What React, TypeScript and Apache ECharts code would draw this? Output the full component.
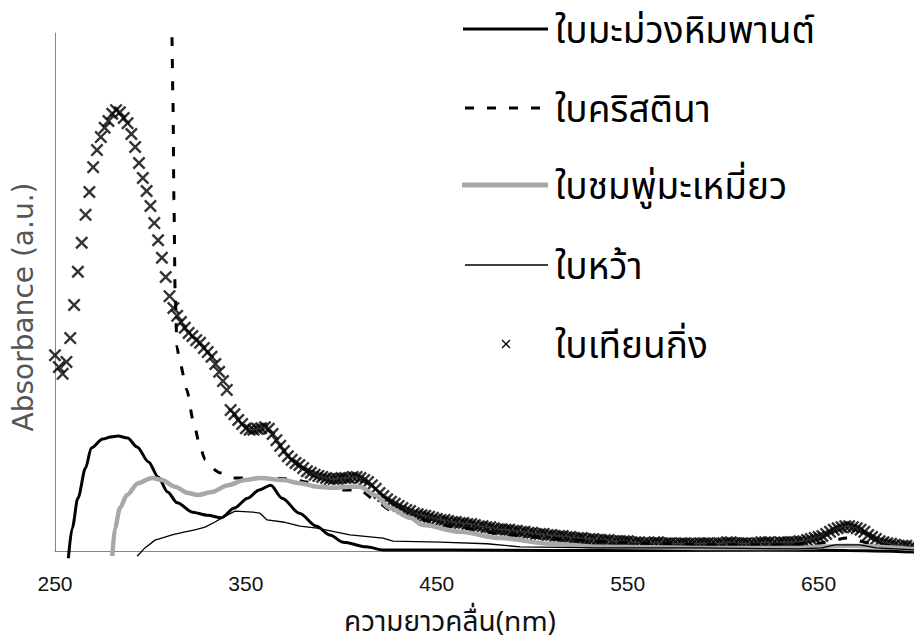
import React, { useEffect, useRef } from "react";
import * as echarts from "echarts";

// Series names (legend order)
const seriesNames = ["ใบมะม่วงหิมพานต์", "ใบคริสตินา", "ใบชมพู่มะเหมี่ยว", "ใบหว้า", "ใบเทียนกิ่ง"];

const xTitle = "ความยาวคลื่น(nm)";
const yTitle = "Absorbance (a.u.)";

// x-axis range and tick spacing (nm)
const xMin = 250;
const xMax = 700;
const xStep = 100;

// [wavelength nm, absorbance a.u.]
const mangoAbs: [number, number][] = [
  [257, -0.014], [259, 0.044], [262, 0.102], [266, 0.160], [269, 0.199], [275, 0.216],
  [279, 0.220], [283, 0.222], [288, 0.218], [293, 0.201], [299, 0.172], [304, 0.143],
  [309, 0.114], [314, 0.093], [322, 0.075], [330, 0.069], [337, 0.064], [344, 0.083],
  [351, 0.102], [357, 0.118], [363, 0.127], [369, 0.102], [378, 0.073], [387, 0.048],
  [394, 0.031], [401, 0.017], [413, 0.008], [422, 0.002], [457, 0.002], [509, 0.001],
  [562, 0.001], [620, 0.002], [665, 0.001], [700, -0.002],
];

const christinaAbs: [number, number][] = [
  [311.3, 0.992], [311.8, 0.871], [312.3, 0.678], [312.9, 0.504], [313.9, 0.394],
  [315.5, 0.363], [319.1, 0.311], [322.3, 0.253], [326.0, 0.201], [328.6, 0.176],
  [331.2, 0.162], [336.4, 0.151], [343.2, 0.141], [352.1, 0.141], [362.6, 0.141],
  [373.1, 0.139], [382.0, 0.133], [390, 0.125], [399.3, 0.118], [409.8, 0.118],
  [418.7, 0.095], [425.5, 0.079], [441.2, 0.060], [462.2, 0.044], [488.3, 0.031],
  [522.4, 0.021], [558.0, 0.015], [593.1, 0.012], [629.8, 0.012], [650.7, 0.015],
  [664.9, 0.025], [676.9, 0.015], [692.6, 0.008], [700, 0.006],
];

const roseAppleAbs: [number, number][] = [
  [280, -0.010], [281.4, 0.044], [284.0, 0.083], [287.7, 0.108], [293.5, 0.131],
  [300.8, 0.141], [306.1, 0.137], [312.9, 0.124], [319.7, 0.112], [324.9, 0.108],
  [332.2, 0.114], [340.6, 0.127], [349.5, 0.137], [357.4, 0.141], [369.4, 0.137],
  [378.3, 0.131], [387.2, 0.124], [395.6, 0.122], [404.5, 0.124], [409.8, 0.124],
  [417.6, 0.108], [425.5, 0.083], [436.0, 0.064], [442.8, 0.050], [462.2, 0.037],
  [483.1, 0.025], [509.3, 0.014], [535.5, 0.008], [587.9, 0.006], [640.3, 0.006],
  [664.9, 0.010], [700, 0.004],
];

const javaPlumAbs: [number, number][] = [
  [293.0, -0.010], [297.1, 0.006], [302.4, 0.021], [307.6, 0.027], [311.3, 0.031],
  [318.1, 0.037], [323.3, 0.041], [328.6, 0.046], [333.8, 0.056], [337.5, 0.064],
  [344.3, 0.077], [353.7, 0.075], [357.4, 0.073], [361.1, 0.060], [369.4, 0.056],
  [378.3, 0.048], [387.2, 0.044], [404.5, 0.031], [421.8, 0.025], [427.1, 0.019],
  [451.7, 0.017], [476.3, 0.014], [493.6, 0.008], [535.5, 0.006], [587.9, 0.006],
  [640.3, 0.004], [651.8, 0.006], [658.6, 0.012], [671.7, 0.012], [680.1, 0.006],
  [700, 0.002],
];

// Henna leaf spectrum, sampled every 2 nm from 250 nm
const hennaStart = 250;
const hennaStep = 2;
const hennaAbs = [
  0.378, 0.355, 0.342, 0.365, 0.411, 0.475, 0.539, 0.595, 0.649, 0.693, // 250-268
  0.741, 0.774, 0.799, 0.817, 0.830, 0.844, 0.851, 0.847, 0.836, 0.826, // 270-288
  0.805, 0.780, 0.749, 0.720, 0.695, 0.666, 0.633, 0.600, 0.566, 0.529, // 290-308
  0.492, 0.469, 0.454, 0.442, 0.431, 0.421, 0.415, 0.407, 0.402, 0.392, // 310-328
  0.384, 0.375, 0.361, 0.346, 0.328, 0.311, 0.272, 0.264, 0.253, 0.245, // 330-348
  0.237, 0.234, 0.234, 0.236, 0.237, 0.239, 0.236, 0.226, 0.214, 0.203, // 350-368
  0.193, 0.183, 0.176, 0.170, 0.166, 0.160, 0.154, 0.151, 0.147, 0.145, // 370-388
  0.143, 0.141, 0.139, 0.139, 0.139, 0.141, 0.141, 0.141, 0.143, 0.143, // 390-408
  0.141, 0.137, 0.133, 0.127, 0.120, 0.112, 0.106, 0.100, 0.095, 0.091, // 410-428
  0.087, 0.083, 0.079, 0.077, 0.073, 0.071, 0.069, 0.068, 0.066, 0.064, // 430-448
  0.062, 0.060, 0.060, 0.058, 0.056, 0.056, 0.054, 0.054, 0.052, 0.052, // 450-468
  0.050, 0.048, 0.048, 0.046, 0.046, 0.044, 0.042, 0.042, 0.041, 0.041, // 470-488
  0.039, 0.039, 0.037, 0.037, 0.035, 0.035, 0.033, 0.033, 0.033, 0.031, // 490-508
  0.031, 0.029, 0.029, 0.029, 0.027, 0.027, 0.025, 0.025, 0.025, 0.023, // 510-528
  0.023, 0.023, 0.021, 0.021, 0.021, 0.021, 0.019, 0.019, 0.019, 0.019, // 530-548
  0.019, 0.017, 0.017, 0.017, 0.015, 0.015, 0.015, 0.017, 0.017, 0.015, // 550-568
  0.015, 0.015, 0.014, 0.014, 0.015, 0.015, 0.014, 0.014, 0.014, 0.015, // 570-588
  0.015, 0.015, 0.014, 0.014, 0.015, 0.015, 0.017, 0.017, 0.015, 0.015, // 590-608
  0.015, 0.015, 0.014, 0.014, 0.015, 0.017, 0.017, 0.017, 0.015, 0.015, // 610-628
  0.017, 0.017, 0.017, 0.017, 0.017, 0.019, 0.019, 0.021, 0.023, 0.025, // 630-648
  0.027, 0.029, 0.033, 0.037, 0.041, 0.044, 0.046, 0.048, 0.048, 0.046, // 650-668
  0.044, 0.041, 0.037, 0.031, 0.027, 0.023, 0.019, 0.017, 0.015, 0.014, // 670-688
  0.012, 0.010, 0.010, 0.010, 0.008, 0.008, // 690-700
];

const THAI_FONT = '"Noto Sans Thai", "Noto Sans Thai UI", Loma, Garuda, Tahoma, "Noto Sans", "DejaVu Sans", sans-serif';
// filled "×" outline so the stroke weight stays fixed
const crossSymbol =
  "path://M0,1.3L1.3,0L5,3.7L8.7,0L10,1.3L6.3,5L10,8.7L8.7,10L5,6.3L1.3,10L0,8.7L3.7,5Z";
const GRAY = "#a8a8a8";
const DASH = [9, 13];

export default function App() {
  const ref = useRef<HTMLDivElement>(null);

  useEffect(() => {
    if (!ref.current) return;
    const chart = echarts.init(ref.current, undefined, { renderer: "svg" });

    const hennaData = hennaAbs.map((v, i) => [hennaStart + i * hennaStep, v]);

    // Legend rows: symbol line from 463 to 548, text from 555
    const rowY = [29, 108, 185, 265, 344];
    const textFont = 37;
    const legend: any[] = [];
    legend.push({ type: "line", shape: { x1: 463, y1: rowY[0], x2: 548, y2: rowY[0] }, style: { stroke: "#000", lineWidth: 3 } });
    legend.push({ type: "line", shape: { x1: 465, y1: rowY[1], x2: 550, y2: rowY[1] }, style: { stroke: "#000", lineWidth: 3, lineDash: DASH } });
    legend.push({ type: "line", shape: { x1: 462, y1: rowY[2], x2: 548, y2: rowY[2] }, style: { stroke: GRAY, lineWidth: 5 } });
    legend.push({ type: "line", shape: { x1: 465, y1: rowY[3], x2: 548, y2: rowY[3] }, style: { stroke: "#000", lineWidth: 1.3 } });
    legend.push({ type: "line", shape: { x1: 502, y1: rowY[4] - 4, x2: 510, y2: rowY[4] + 4 }, style: { stroke: "#000", lineWidth: 1.3 } });
    legend.push({ type: "line", shape: { x1: 502, y1: rowY[4] + 4, x2: 510, y2: rowY[4] - 4 }, style: { stroke: "#000", lineWidth: 1.3 } });
    seriesNames.forEach((name, i) => {
      legend.push({
        type: "text",
        x: 555,
        y: rowY[i] + 3,
        style: {
          text: name,
          fill: "#000",
          fontSize: textFont,
          fontFamily: THAI_FONT,
          align: "left",
          verticalAlign: "middle",
        },
      });
    });

    chart.setOption({
      animation: false,
      backgroundColor: "#fff",
      grid: { left: 55, right: 0, top: 33, bottom: 93, containLabel: false },
      xAxis: {
        type: "value",
        min: xMin,
        max: xMax,
        interval: xStep,
        axisLine: { show: true, lineStyle: { color: "#868686", width: 1 } },
        axisTick: { show: false },
        splitLine: { show: false },
        axisLabel: {
          fontSize: 21,
          lineHeight: 21,
          color: "#111",
          fontFamily: '"Liberation Sans", Arial, sans-serif',
          margin: 22,
          showMaxLabel: false,
        },
      },
      yAxis: {
        type: "value",
        min: 0,
        max: 1,
        axisLine: { show: true, lineStyle: { color: "#868686", width: 1 } },
        axisTick: { show: false },
        axisLabel: { show: false },
        splitLine: { show: false },
      },
      series: [
        {
          name: seriesNames[0],
          type: "line",
          data: mangoAbs,
          showSymbol: false,
          clip: false,
          smooth: 0.3,
          smoothMonotone: "x",
          lineStyle: { color: "#000", width: 3 },
        },
        {
          name: seriesNames[1],
          type: "line",
          data: christinaAbs,
          showSymbol: false,
          clip: false,
          smooth: 0.2,
          smoothMonotone: "x",
          lineStyle: { color: "#000", width: 3, type: DASH },
        },
        {
          name: seriesNames[2],
          type: "line",
          data: roseAppleAbs,
          showSymbol: false,
          clip: false,
          smooth: 0.3,
          smoothMonotone: "x",
          lineStyle: { color: GRAY, width: 4.5 },
        },
        {
          name: seriesNames[3],
          type: "line",
          data: javaPlumAbs,
          showSymbol: false,
          clip: false,
          lineStyle: { color: "#000", width: 1.3 },
        },
        {
          name: seriesNames[4],
          type: "scatter",
          data: hennaData,
          clip: false,
          symbol: crossSymbol,
          symbolSize: 13,
          itemStyle: { color: "#000" },
        },
      ],
      graphic: [
        {
          type: "text",
          x: 23,
          y: 307,
          rotation: Math.PI / 2,
          style: {
            text: yTitle,
            fill: "#555",
            fontSize: 28,
            fontFamily: '"DejaVu Sans", sans-serif',
            align: "center",
            verticalAlign: "middle",
          },
        },
        {
          type: "text",
          x: 450,
          y: 622,
          style: {
            text: xTitle,
            fill: "#111",
            fontSize: 28,
            fontFamily: THAI_FONT,
            align: "center",
            verticalAlign: "middle",
          },
        },
        ...legend,
      ],
    });

    return () => chart.dispose();
  }, []);

  return (
    <div
      ref={ref}
      style={{ position: "fixed", left: 0, top: 0, width: 914, height: 644 }}
    />
  );
}
